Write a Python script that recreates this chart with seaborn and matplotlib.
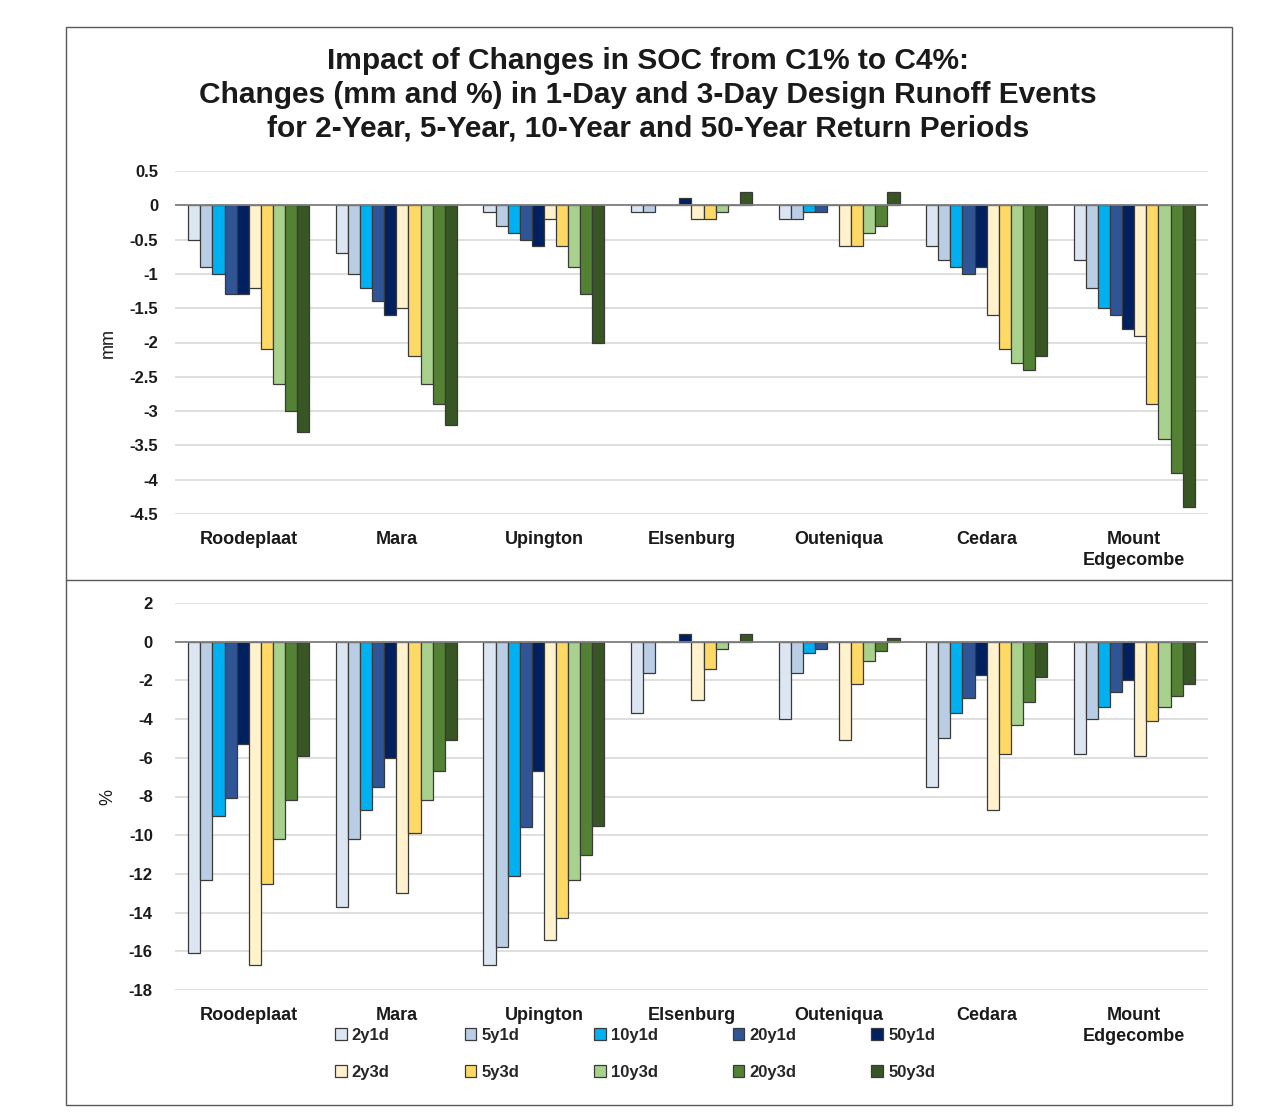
import numpy as np
import pandas as pd
import matplotlib.pyplot as plt
from matplotlib.patches import Patch, Rectangle
from matplotlib.lines import Line2D
import seaborn as sns

W, H = 1288, 1117

stations = ["Roodeplaat", "Mara", "Upington", "Elsenburg", "Outeniqua", "Cedara", "Mount\nEdgecombe"]
series = ["2y1d", "5y1d", "10y1d", "20y1d", "50y1d", "2y3d", "5y3d", "10y3d", "20y3d", "50y3d"]
colors = ["#DCE6F2", "#B9CDE5", "#00B0F0", "#2F5597", "#002060",
          "#FFF2CC", "#FFD966", "#A9D18E", "#548235", "#375623"]

# change in runoff depth (mm), one list per series, in station order
mm_2y1d = [-0.5, -0.7, -0.1, -0.1, -0.2, -0.6, -0.8]
mm_5y1d = [-0.9, -1.0, -0.3, -0.1, -0.2, -0.8, -1.2]
mm_10y1d = [-1.0, -1.2, -0.4, 0.0, -0.1, -0.9, -1.5]
mm_20y1d = [-1.3, -1.4, -0.5, 0.0, -0.1, -1.0, -1.6]
mm_50y1d = [-1.3, -1.6, -0.6, 0.1, 0.0, -0.9, -1.8]
mm_2y3d = [-1.2, -1.5, -0.2, -0.2, -0.6, -1.6, -1.9]
mm_5y3d = [-2.1, -2.2, -0.6, -0.2, -0.6, -2.1, -2.9]
mm_10y3d = [-2.6, -2.6, -0.9, -0.1, -0.4, -2.3, -3.4]
mm_20y3d = [-3.0, -2.9, -1.3, 0.0, -0.3, -2.4, -3.9]
mm_50y3d = [-3.3, -3.2, -2.0, 0.2, 0.2, -2.2, -4.4]

# change in runoff (%)
pc_2y1d = [-16.1, -13.7, -16.7, -3.7, -4.0, -7.5, -5.8]
pc_5y1d = [-12.3, -10.2, -15.8, -1.6, -1.6, -5.0, -4.0]
pc_10y1d = [-9.0, -8.7, -12.1, 0.0, -0.6, -3.7, -3.4]
pc_20y1d = [-8.1, -7.5, -9.6, 0.0, -0.4, -2.9, -2.6]
pc_50y1d = [-5.3, -6.0, -6.7, 0.4, 0.0, -1.7, -2.0]
pc_2y3d = [-16.7, -13.0, -15.4, -3.0, -5.1, -8.7, -5.9]
pc_5y3d = [-12.5, -9.9, -14.3, -1.4, -2.2, -5.8, -4.1]
pc_10y3d = [-10.2, -8.2, -12.3, -0.4, -1.0, -4.3, -3.4]
pc_20y3d = [-8.2, -6.7, -11.0, 0.0, -0.5, -3.1, -2.8]
pc_50y3d = [-5.9, -5.1, -9.5, 0.4, 0.2, -1.8, -2.2]

mm_values = [mm_2y1d, mm_5y1d, mm_10y1d, mm_20y1d, mm_50y1d,
             mm_2y3d, mm_5y3d, mm_10y3d, mm_20y3d, mm_50y3d]
pc_values = [pc_2y1d, pc_5y1d, pc_10y1d, pc_20y1d, pc_50y1d,
             pc_2y3d, pc_5y3d, pc_10y3d, pc_20y3d, pc_50y3d]


def long_frame(values):
    rows = []
    for name, vals in zip(series, values):
        for st, v in zip(stations, vals):
            rows.append({"station": st, "series": name, "value": v})
    return pd.DataFrame(rows)


sns.set_theme(style="white")
plt.rcParams["font.family"] = ["Liberation Sans", "DejaVu Sans"]
plt.rcParams["axes.unicode_minus"] = False

fig = plt.figure(figsize=(W / 100, H / 100), dpi=100)
fig.patch.set_facecolor("white")

ax_mm = fig.add_axes([175 / W, 1 - 514 / H, (1208 - 175) / W, (514 - 171) / H])
ax_pc = fig.add_axes([175 / W, 1 - 990 / H, (1208 - 175) / W, (990 - 603) / H])

panels = [
    (ax_mm, long_frame(mm_values), (-4.5, 0.5), np.arange(-4.5, 0.51, 0.5), 12),
    (ax_pc, long_frame(pc_values), (-18, 2), np.arange(-18, 2.1, 2), 16),
]

for ax, df, lims, ticks, ypad in panels:
    sns.barplot(data=df, x="station", y="value", hue="series",
                order=stations, hue_order=series, palette=colors, saturation=1,
                width=0.82, errorbar=None, edgecolor="#3A3A3A", linewidth=0.9,
                legend=False, ax=ax, zorder=3)
    ax.set_ylim(*lims)
    ax.set_xlim(-0.5, len(stations) - 0.5)
    ax.set_yticks(ticks)
    ax.set_yticklabels([f"{np.round(t, 1):g}" for t in ticks])
    ax.yaxis.grid(True, color="#D9D9D9", linewidth=1.2)
    ax.set_axisbelow(True)
    ax.axhline(0, color="#808080", linewidth=1.3, zorder=4)
    for s in ax.spines.values():
        s.set_visible(False)
    ax.set_xlabel("")
    ax.set_ylabel("")
    ax.tick_params(axis="y", length=0, pad=ypad, labelsize=12)
    ax.tick_params(axis="x", length=0, pad=12, labelsize=13)
    for lab in ax.get_xticklabels() + ax.get_yticklabels():
        lab.set_fontweight("bold")
        lab.set_color("#1A1A1A")
    for lab in ax.get_xticklabels():
        lab.set_linespacing(1.35)

fig.text(648 / W, 1 - 95 / H,
         "Impact of Changes in SOC from C1% to C4%:\n"
         "Changes (mm and %) in 1-Day and 3-Day Design Runoff Events\n"
         "for 2-Year, 5-Year, 10-Year and 50-Year Return Periods",
         ha="center", va="center", fontsize=21.5, fontweight="bold",
         linespacing=1.27, color="#1A1A1A")

fig.text(108 / W, 1 - 343 / H, "mm", rotation=90, ha="center", va="center",
         fontsize=13, color="#1A1A1A")
fig.text(108 / W, 1 - 797 / H, "%", rotation=90, ha="center", va="center",
         fontsize=13, color="#1A1A1A")

# legend: rows are 1-day then 3-day, matplotlib fills column by column
order = [0, 5, 1, 6, 2, 7, 3, 8, 4, 9]
handles = [Patch(facecolor=colors[i], edgecolor="#3A3A3A", linewidth=0.9) for i in order]
labels = [series[i] for i in order]
fig.legend(handles, labels, loc="upper left", bbox_to_anchor=(320 / W, 1 - 1013 / H),
           ncol=5, frameon=False, handlelength=0.7, handleheight=0.7,
           handletextpad=0.3, columnspacing=4.5, labelspacing=1.3,
           prop={"weight": "bold", "size": 12})

fig.add_artist(Rectangle((66 / W, 1 - 1105 / H), (1232 - 66) / W, (1105 - 27) / H,
                         transform=fig.transFigure, fill=False,
                         edgecolor="#595959", linewidth=1))
fig.add_artist(Line2D([66 / W, 1232 / W], [1 - 580 / H, 1 - 580 / H],
                      transform=fig.transFigure, color="#595959", linewidth=1))

fig.savefig("out.png", dpi=100, facecolor="white")
